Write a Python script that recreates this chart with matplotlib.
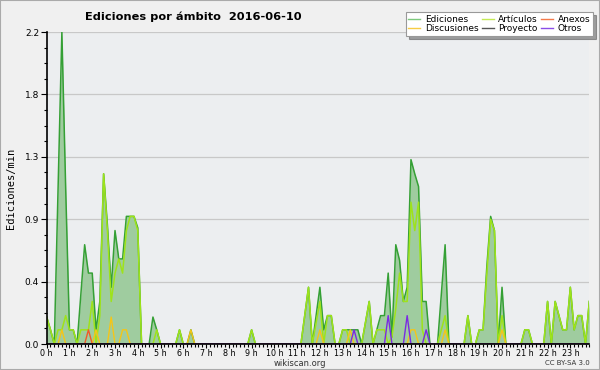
import matplotlib
matplotlib.use('Agg')
import matplotlib.pyplot as plt
import numpy as np
from matplotlib.patches import Rectangle
from matplotlib.lines import Line2D

title = 'Ediciones por ámbito  2016-06-10'
hour_labels = ['%d h' % h for h in range(24)]
ytick_vals = [0.0, 0.44, 0.88, 1.32, 1.76, 2.2]
ytick_labels = ['0.0', '0.4', '0.9', '1.3', '1.8', '2.2']

# edits per minute, 10-minute steps (144 points)
ediciones = [
    0.19, 0.1, 0, 1.1, 2.2, 1.1, 0.1, 0.1, 0, 0.35,
    0.7, 0.5, 0.5, 0.1, 0.3, 1.2, 0.84, 0.4, 0.8, 0.6,
    0.6, 0.9, 0.9, 0.9, 0.82, 0, 0, 0, 0.19, 0.1,
    0, 0, 0, 0, 0, 0.1, 0, 0, 0.1, 0,
    0, 0, 0, 0, 0, 0, 0, 0, 0, 0,
    0, 0, 0, 0, 0.1, 0, 0, 0, 0, 0,
    0, 0, 0, 0, 0, 0, 0, 0, 0.2, 0.4,
    0, 0.2, 0.4, 0.1, 0.2, 0.2, 0, 0, 0.1, 0.1,
    0.1, 0.1, 0.1, 0, 0.15, 0.3, 0, 0.1, 0.2, 0.2,
    0.5, 0.05, 0.7, 0.59, 0.3, 0.4, 1.3, 1.2, 1.11, 0.3,
    0.3, 0, 0, 0, 0.35, 0.7, 0, 0, 0, 0,
    0, 0.2, 0, 0, 0.1, 0.1, 0.55, 0.9, 0.8, 0,
    0.4, 0, 0, 0, 0, 0, 0.1, 0.1, 0, 0,
    0, 0, 0.3, 0, 0.3, 0.2, 0.1, 0.1, 0.4, 0.1,
    0.2, 0.2, 0, 0.3]

articulos = [
    0.19, 0.1, 0, 0.1, 0.1, 0.2, 0.1, 0.1, 0, 0.1,
    0.1, 0.1, 0.3, 0, 0.2, 1.2, 0.8, 0.3, 0.5, 0.6,
    0.5, 0.8, 0.9, 0.9, 0.8, 0, 0, 0, 0, 0.1,
    0, 0, 0, 0, 0, 0.1, 0, 0, 0, 0,
    0, 0, 0, 0, 0, 0, 0, 0, 0, 0,
    0, 0, 0, 0, 0.1, 0, 0, 0, 0, 0,
    0, 0, 0, 0, 0, 0, 0, 0, 0.2, 0.4,
    0, 0.15, 0.3, 0, 0.2, 0.2, 0, 0, 0.1, 0.1,
    0, 0, 0, 0, 0.15, 0.3, 0, 0.1, 0.1, 0.1,
    0, 0.05, 0.25, 0.5, 0.3, 0.3, 1.0, 0.8, 1.0, 0.1,
    0, 0, 0, 0, 0.1, 0.2, 0, 0, 0, 0,
    0, 0.2, 0, 0, 0.1, 0.1, 0.5, 0.88, 0.8, 0,
    0.2, 0, 0, 0, 0, 0, 0.1, 0.1, 0, 0,
    0, 0, 0.3, 0, 0.3, 0.2, 0.1, 0.1, 0.4, 0.1,
    0.2, 0.2, 0, 0.3]

# sparse series: step index -> value
discusiones_idx = [4, 13, 17, 20, 21, 38, 72, 80, 96, 97, 105, 120]
discusiones_val = [0.1, 0.1, 0.19, 0.1, 0.1, 0.1, 0.1, 0.1, 0.1, 0.1, 0.1, 0.1]
anexos_idx = [11]
anexos_val = [0.1]
proyecto_idx = []
proyecto_val = []
otros_idx = [81, 90, 95, 100]
otros_val = [0.1, 0.2, 0.2, 0.1]

n = len(ediciones)
x = np.arange(n) / 6.0


def dense(idx, val):
    s = np.zeros(n)
    for i, v in zip(idx, val):
        s[i] = v
    return s


discusiones = dense(discusiones_idx, discusiones_val)
anexos = dense(anexos_idx, anexos_val)
proyecto = dense(proyecto_idx, proyecto_val)
otros = dense(otros_idx, otros_val)

W, H = 600, 370
fig = plt.figure(figsize=(6, 3.7), dpi=100, facecolor='#f0f0f0')
ax = fig.add_axes([46.7 / W, 26 / H, 542.6 / W, 312 / H])
ax.set_facecolor('#eceef0')

c_ed = '#35a035'
c_fill = '#9fcc9f'
c_art = '#9ee31a'
c_dis = '#f5c518'
c_anx = '#f05a28'
c_pro = '#555555'
c_otr = '#7a2be2'

ax.fill_between(x, 0, ediciones, color=c_fill, lw=0, zorder=1)
ax.plot(x, ediciones, color=c_ed, lw=1.1, zorder=2)
ax.plot(x, articulos, color=c_art, lw=1.1, zorder=2.1)
ax.plot(x, discusiones, color=c_dis, lw=1.0, zorder=2.2)
ax.plot(x, anexos, color=c_anx, lw=1.0, zorder=2.2)
ax.plot(x, proyecto, color=c_pro, lw=1.0, zorder=2.2)
ax.plot(x, otros, color=c_otr, lw=1.0, zorder=2.3)

ax.set_xlim(0, (n - 1) / 6.0)
ax.set_ylim(0, 2.2)
ax.set_xticks(np.arange(24))
ax.set_xticklabels(hour_labels)
ax.set_xticks(np.arange(n) / 6.0, minor=True)
ax.set_yticks(ytick_vals)
ax.set_yticklabels(ytick_labels)
ax.set_yticks(np.arange(0, 2.21, 0.11), minor=True)
ax.tick_params(axis='y', which='major', labelsize=6.5, length=4, width=0.8,
               pad=1.5, color='black')
ax.tick_params(axis='x', which='major', labelsize=5.8, length=3, width=0.8,
               pad=0.3, color='black')
ax.tick_params(axis='both', which='minor', length=2.5, width=0.8, color='black')
ax.grid(axis='y', which='major', color='#c8c8c8', lw=0.9)
ax.set_axisbelow(True)
for s in ['top', 'right']:
    ax.spines[s].set_visible(False)
for s in ['left', 'bottom']:
    ax.spines[s].set_linewidth(1.2)
    ax.spines[s].set_zorder(3)

ax.set_ylabel('Ediciones/min', fontsize=7.5, family='DejaVu Sans Mono', labelpad=6)

fig.text(85 / W, 1 - 17 / H, title, fontsize=8.2, fontweight='bold',
         ha='left', va='center')
fig.text(300 / W, 1 - 363 / H, 'wikiscan.org', fontsize=6, ha='center', va='center',
         color='#333333')
fig.text(590 / W, 1 - 363 / H, 'CC BY-SA 3.0', fontsize=5, ha='right', va='center',
         color='#333333')

handles = [
    Line2D([], [], color='#7dc97d', lw=1),
    Line2D([], [], color='#f7cc44', lw=1),
    Line2D([], [], color='#c4ea55', lw=1),
    Line2D([], [], color=c_pro, lw=1),
    Line2D([], [], color='#f47a4a', lw=1),
    Line2D([], [], color='#8a4de8', lw=1),
]
labels = ['Ediciones', 'Discusiones', 'Artículos', 'Proyecto', 'Anexos', 'Otros']
leg = fig.legend(handles, labels, ncol=3, loc='upper right',
                 bbox_to_anchor=(593 / W, 1 - 12 / H), bbox_transform=fig.transFigure,
                 fontsize=6.5, frameon=True, fancybox=False, shadow=True,
                 handlelength=1.3, handletextpad=0.5, columnspacing=0.4,
                 labelspacing=0.05, borderpad=0.3, borderaxespad=0)
leg.get_frame().set_edgecolor('#999999')
leg.get_frame().set_linewidth(0.8)

fig.patches.append(Rectangle((0, 0), 1, 1, transform=fig.transFigure, fill=False,
                             edgecolor='#aaaaaa', lw=1.5))

fig.savefig('out.png', dpi=100, facecolor=fig.get_facecolor())
